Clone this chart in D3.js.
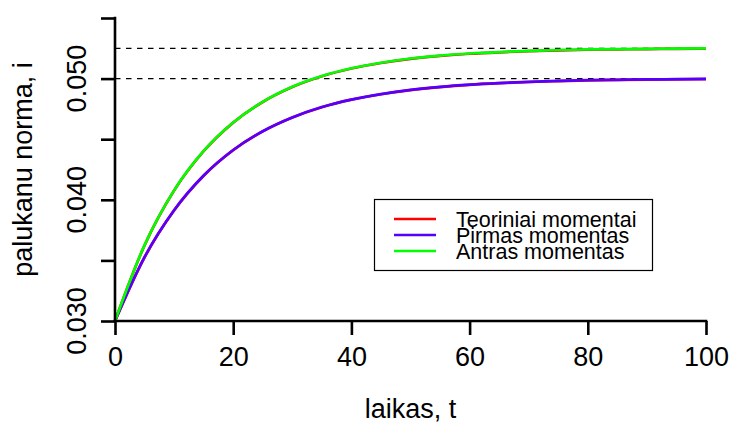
<!DOCTYPE html>
<html>
<head>
<meta charset="utf-8">
<script src="https://cdn.jsdelivr.net/npm/d3@7"></script>
<style>
  html, body { margin: 0; padding: 0; background: #fff; }
  svg { display: block; font-family: "Liberation Sans", Arial, sans-serif; }
</style>
</head>
<body>
<svg id="chart" width="732" height="425"></svg>
<script>
// Time grid (t) shared by every series
const times = [0, 5, 10, 15, 20, 25, 30, 35, 40, 45, 50, 55, 60, 65, 70, 75, 80, 85, 90, 95, 100];

// Theoretical moments (red): first and second
const theoryFirst  = [0.03000, 0.03526, 0.03913, 0.04199, 0.04410, 0.04565, 0.04679, 0.04764, 0.04826, 0.04871, 0.04905,
                      0.04930, 0.04949, 0.04962, 0.04972, 0.04979, 0.04985, 0.04989, 0.04992, 0.04994, 0.04996];
const theorySecond = [0.03000, 0.03624, 0.04076, 0.04401, 0.04637, 0.04807, 0.04930, 0.05019, 0.05083, 0.05129, 0.05163,
                      0.05187, 0.05205, 0.05217, 0.05226, 0.05233, 0.05238, 0.05241, 0.05244, 0.05245, 0.05247];

// Estimated moments
const firstMoment  = [0.03000, 0.03527, 0.03914, 0.04200, 0.04411, 0.04566, 0.04680, 0.04765, 0.04827, 0.04872, 0.04907,
                      0.04932, 0.04950, 0.04963, 0.04973, 0.04981, 0.04987, 0.04990, 0.04993, 0.04995, 0.04997];
const secondMoment = [0.03000, 0.03626, 0.04078, 0.04403, 0.04638, 0.04808, 0.04932, 0.05021, 0.05085, 0.05131, 0.05166,
                      0.05190, 0.05207, 0.05219, 0.05228, 0.05236, 0.05241, 0.05244, 0.05246, 0.05247, 0.05249];

// Long-run levels marked by dashed reference lines
const levels = [0.0525, 0.050];

const xTicks = [0, 20, 40, 60, 80, 100];
const yTicks = [0.030, 0.035, 0.040, 0.045, 0.050, 0.055];
const yTickLabels = ["0.030", "", "0.040", "", "0.050", ""];

const legendLabels = ["Teoriniai momentai", "Pirmas momentas", "Antras momentas"];
const legendColors = ["#ff0000", "#5500ff", "#00ff00"];

const svg = d3.select("#chart");

const x = d3.scaleLinear().domain([0, 100]).range([115, 706]);
const y = d3.scaleLinear().domain([0.030, 0.055]).range([321, 18]);

// Dashed reference levels
svg.append("g").selectAll("line").data(levels).join("line")
  .attr("x1", x(0)).attr("x2", x(100))
  .attr("y1", d => y(d)).attr("y2", d => y(d))
  .attr("stroke", "#000").attr("stroke-width", 1.2)
  .attr("stroke-dasharray", "5.5,5.5");

const line = d3.line()
  .x((d, i) => x(times[i]))
  .y(d => y(d))
  .curve(d3.curveMonotoneX);

const series = [
  { values: theoryFirst,  color: legendColors[0] },
  { values: theorySecond, color: legendColors[0] },
  { values: firstMoment,  color: legendColors[1] },
  { values: secondMoment, color: legendColors[2] }
];

svg.append("g").selectAll("path").data(series).join("path")
  .attr("d", d => line(d.values))
  .attr("fill", "none")
  .attr("stroke", d => d.color)
  .attr("stroke-width", 2.7)
  .attr("stroke-linejoin", "round");

// Axes
const xAxis = svg.append("g").attr("transform", `translate(0,${y(0.030)})`)
  .call(d3.axisBottom(x).tickValues(xTicks).tickSize(14).tickPadding(10).tickFormat(d3.format("d")));
const yAxis = svg.append("g").attr("transform", `translate(${x(0)},0)`)
  .call(d3.axisLeft(y).tickValues(yTicks).tickSize(14).tickFormat(""));

[xAxis, yAxis].forEach(g => {
  g.select(".domain").remove();
  g.selectAll(".tick line").attr("stroke", "#000").attr("stroke-width", 2.6);
});

// Axis lines span first to last tick
svg.append("line")
  .attr("x1", x(0) - 1.3).attr("x2", x(100) + 1.3)
  .attr("y1", y(0.030)).attr("y2", y(0.030))
  .attr("stroke", "#000").attr("stroke-width", 2.6);
svg.append("line")
  .attr("x1", x(0)).attr("x2", x(0))
  .attr("y1", y(0.055) - 1.3).attr("y2", y(0.030) + 1.3)
  .attr("stroke", "#000").attr("stroke-width", 2.6);

xAxis.selectAll(".tick text")
  .attr("font-family", "Liberation Sans, Arial, sans-serif")
  .attr("font-size", 27).attr("fill", "#000")
  .attr("dy", null).attr("y", 45);

// Rotated y tick labels
svg.append("g").selectAll("text").data(yTicks.map((v, i) => ({ v, label: yTickLabels[i] })).filter(d => d.label))
  .join("text")
  .attr("transform", d => `translate(86,${y(d.v)}) rotate(-90)`)
  .attr("text-anchor", "middle")
  .attr("font-size", 27)
  .text(d => d.label);

// Axis titles
svg.append("text")
  .attr("x", (x(0) + x(100)) / 2).attr("y", 418)
  .attr("text-anchor", "middle").attr("font-size", 27)
  .text("laikas, t");
svg.append("text")
  .attr("transform", `translate(32,${(y(0.030) + y(0.055)) / 2}) rotate(-90)`)
  .attr("text-anchor", "middle").attr("font-size", 27)
  .text("palukanu norma, i");

// Legend
const legend = svg.append("g");
legend.append("rect")
  .attr("x", 374.5).attr("y", 199.5).attr("width", 278).attr("height", 71)
  .attr("fill", "#fff").attr("stroke", "#000").attr("stroke-width", 1.2);
const rows = legend.selectAll("g.row").data(legendLabels).join("g")
  .attr("class", "row")
  .attr("transform", (d, i) => `translate(0,${219 + i * 16})`);
rows.append("line")
  .attr("x1", 394).attr("x2", 436).attr("y1", 0).attr("y2", 0)
  .attr("stroke", (d, i) => legendColors[i]).attr("stroke-width", 2.7);
rows.append("text")
  .attr("x", 456).attr("y", 7.5)
  .attr("font-size", 21.5)
  .text(d => d);
</script>
</body>
</html>
